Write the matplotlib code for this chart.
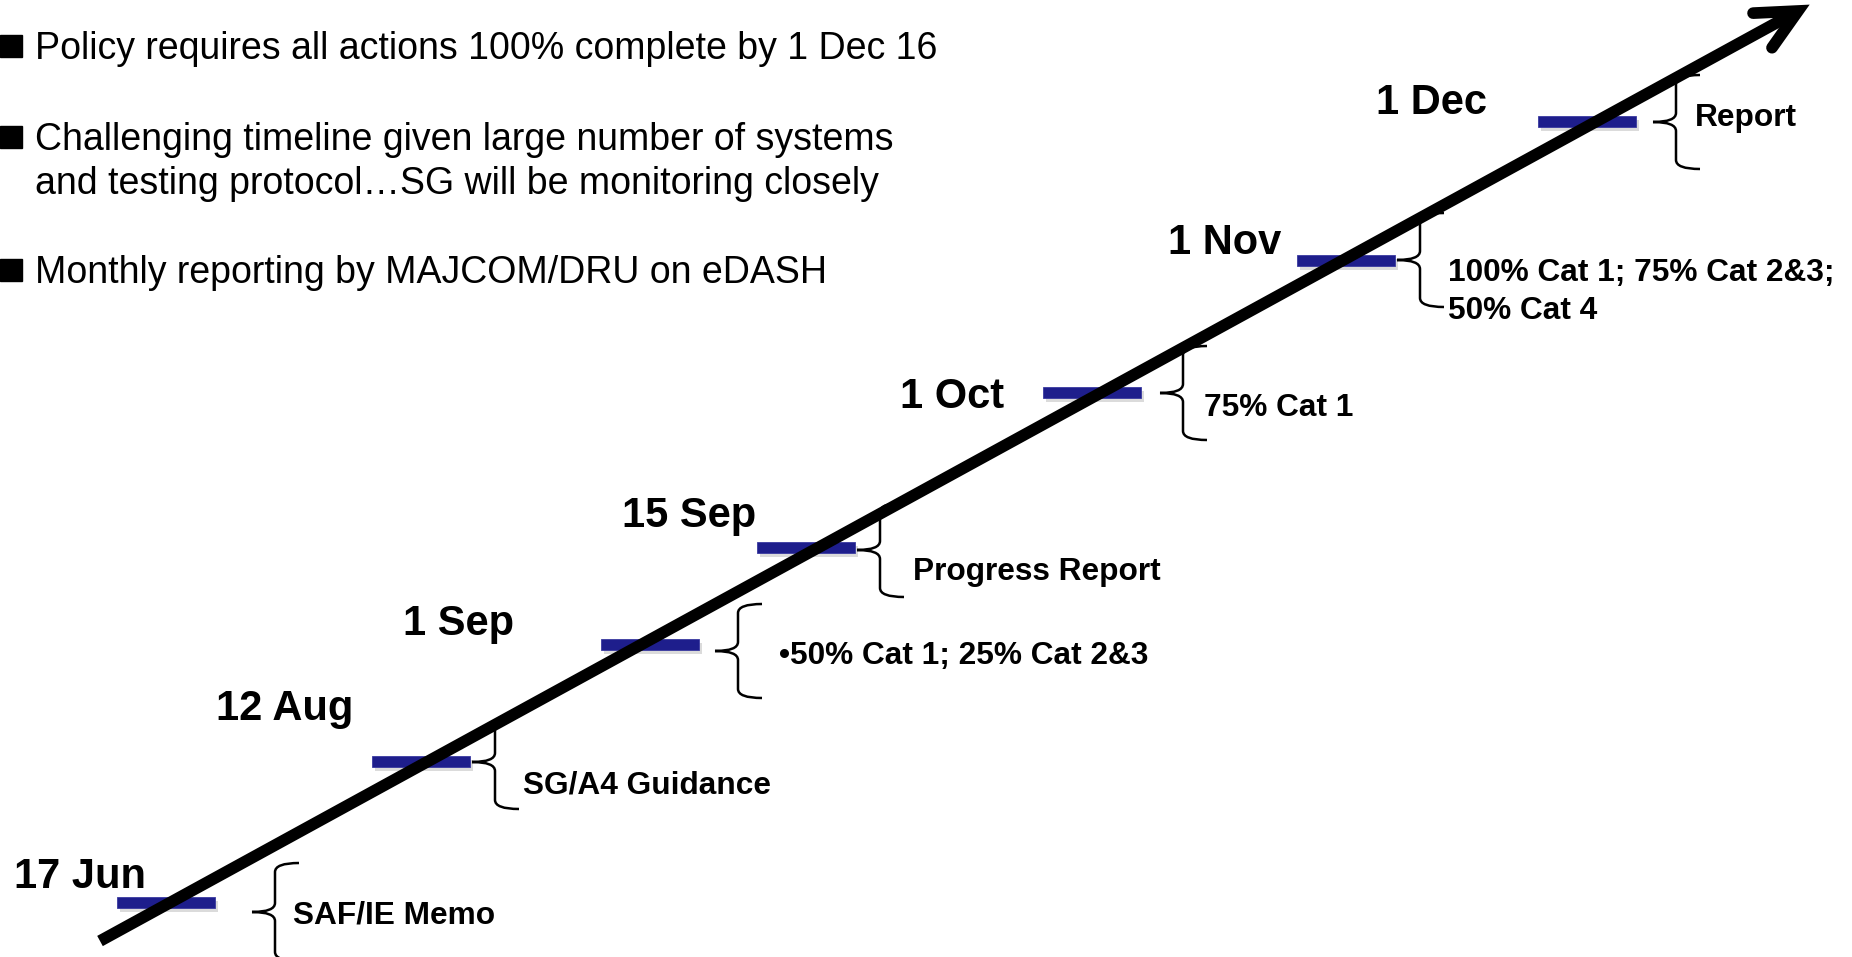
import numpy as np
import matplotlib
matplotlib.use("Agg")
import matplotlib.pyplot as plt
from matplotlib.path import Path
from matplotlib.patches import PathPatch, Rectangle

plt.rcParams['font.family'] = ['Liberation Sans', 'DejaVu Sans']

# milestones on the timeline
dates = ['17 Jun', '12 Aug', '1 Sep', '15 Sep', '1 Oct', '1 Nov', '1 Dec']
events = ['SAF/IE Memo', 'SG/A4 Guidance', '\u202250% Cat 1; 25% Cat 2&3',
          'Progress Report', '75% Cat 1', '100% Cat 1; 75% Cat 2&3;\n50% Cat 4',
          'Report']
# fraction along the arrow where each milestone sits
progress = [0.039, 0.189, 0.324, 0.416, 0.584, 0.734, 0.876]

bullets = ['Policy requires all actions 100% complete by 1 Dec 16',
           'Challenging timeline given large number of systems\nand testing protocol\u2026SG will be monitoring closely',
           'Monthly reporting by MAJCOM/DRU on eDASH']

# layout (pixel space, y down)
W, H = 1852, 957
arrow_start = np.array([100.0, 941.0])
arrow_end = np.array([1798.0, 11.0])
bar_dy = [-2, -4, 5, -7, -5, 2, -5]
date_xy = [(14, 877), (216, 709), (403, 624), (622, 516), (900, 397), (1168, 243), (1376, 103)]
brace_tip = [(252, 912), (472, 762), (715, 651), (857, 550), (1160, 393), (1397, 260), (1653, 122)]
brace_half = [49, 47, 47, 47, 47, 47, 47]
event_xy = [(293, 915), (523, 785), (779, 656), (913, 572), (1204, 408), (1448, 292), (1695, 118)]
bullet_y = [46, 137, 270]
bar_w, bar_h = 98, 11
navy = '#1e1e8c'

fig = plt.figure(figsize=(W / 100, H / 100), dpi=100)
ax = fig.add_axes([0, 0, 1, 1])
ax.set_xlim(0, W)
ax.set_ylim(H, 0)
ax.axis('off')


def brace(ax, tip, half=47, depth=23, hook=24, r=9):
    xt, ym = tip
    xv = xt + depth
    xe = xv + hook
    yt, yb = ym - half, ym + half
    verts = [(xe, yt), (xv, yt), (xv, yt + r),
             (xv, ym - r), (xv, ym), (xt, ym),
             (xv, ym), (xv, ym + r),
             (xv, yb - r), (xv, yb), (xe, yb)]
    codes = [Path.MOVETO, Path.CURVE3, Path.CURVE3,
             Path.LINETO, Path.CURVE3, Path.CURVE3,
             Path.CURVE3, Path.CURVE3,
             Path.LINETO, Path.CURVE3, Path.CURVE3]
    ax.add_patch(PathPatch(Path(verts, codes), fill=False, lw=1.8,
                           edgecolor='black', zorder=2))


# bars (milestones)
for p, dy in zip(progress, bar_dy):
    cx, cy = arrow_start + p * (arrow_end - arrow_start)
    cy += dy
    ax.add_patch(Rectangle((cx - bar_w / 2 + 3, cy - bar_h / 2 + 4), bar_w, bar_h,
                           facecolor='#999999', alpha=0.35, lw=0, zorder=2))
    ax.add_patch(Rectangle((cx - bar_w / 2, cy - bar_h / 2), bar_w, bar_h,
                           facecolor=navy, edgecolor='#3a3aa0', lw=0.6, zorder=3))

# main arrow
ax.plot([arrow_start[0], arrow_end[0]], [arrow_start[1], arrow_end[1]],
        color='black', lw=8.4, solid_capstyle='butt', zorder=4)
u = (arrow_start - arrow_end) / np.linalg.norm(arrow_start - arrow_end)
ang = np.deg2rad(26)
arms = []
for s in (1, -1):
    c, sn = np.cos(s * ang), np.sin(s * ang)
    v = np.array([c * u[0] - sn * u[1], sn * u[0] + c * u[1]])
    arms.append(arrow_end + 45 * v)
ax.plot([arms[0][0], arrow_end[0], arms[1][0]], [arms[0][1], arrow_end[1], arms[1][1]],
        color='black', lw=8.4, solid_capstyle='round', solid_joinstyle='miter', zorder=4)

# dates, braces and events
for d, (x, y) in zip(dates, date_xy):
    ax.text(x, y, d, fontsize=30, fontweight='bold', ha='left', va='center', zorder=5)
for tip, half in zip(brace_tip, brace_half):
    brace(ax, tip, half=half)
for e, (x, y) in zip(events, event_xy):
    ax.text(x, y, e, fontsize=22.8, fontweight='bold', ha='left', va='center',
            linespacing=1.38, zorder=5)

# bullet text
for b, y in zip(bullets, bullet_y):
    ax.plot(11, y, marker='s', ms=15.5, color='black', zorder=5)
    ax.text(35, y - 15, b, fontsize=27, ha='left', va='top', linespacing=1.27, zorder=5)

fig.savefig('out.png', dpi=100, facecolor='white')
